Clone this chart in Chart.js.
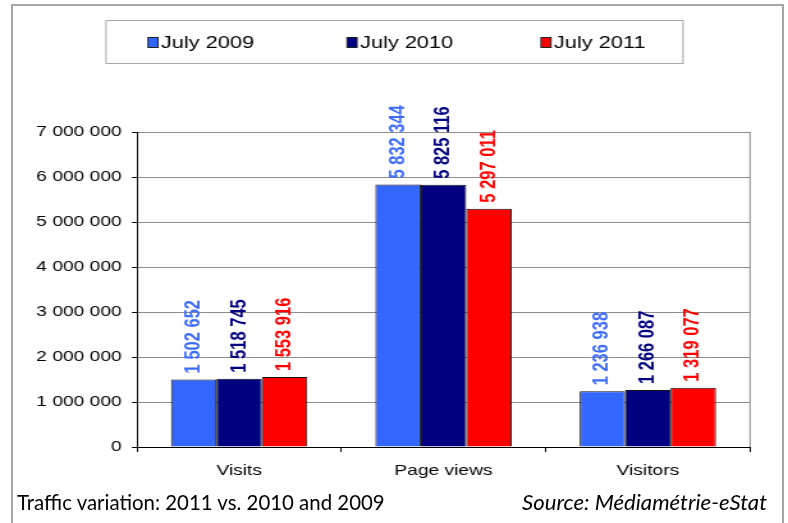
<!DOCTYPE html>
<html><head><meta charset="utf-8">
<script src="https://cdn.jsdelivr.net/npm/chart.js@4"></script>
<style>
html,body{margin:0;padding:0;background:#fff;width:788px;height:523px;overflow:hidden;}
#wrap{position:relative;width:788px;height:523px;}
#frame{position:absolute;left:11px;top:4px;width:773px;height:540px;border:2px solid #a6a6a6;border-bottom:none;box-sizing:border-box;}
#c{position:absolute;left:0;top:0;}
.foot{position:absolute;top:488px;font-family:Lato,"Open Sans",sans-serif;font-size:19px;color:#000;white-space:nowrap;line-height:28px;}
</style></head>
<body><div id="wrap"><div id="frame"></div><canvas id="c" width="616" height="523" style="width:788px;height:523px"></canvas>
<div class="foot" id="f1"></div>
<div class="foot" id="f2" style="font-style:italic"></div></div>
<script>
const categories = ['Visits', 'Page views', 'Visitors'];
const seriesNames = ['July 2009', 'July 2010', 'July 2011'];
const july2009 = [1502652, 5832344, 1236938];
const july2010 = [1518745, 5825116, 1266087];
const july2011 = [1553916, 5297011, 1319077];
const yTickValues = [0, 1000000, 2000000, 3000000, 4000000, 5000000, 6000000, 7000000];
const footLeft = 'Traffic variation: 2011 vs. 2010 and 2009';
const footRight = 'Source: Médiamétrie-eStat';

const barColors = ['#3366ff', '#000080', '#ff0000'];
const labelColors = ['#3d6cff', '#000080', '#ff0000'];
const S = 788 / 616;           // horizontal stretch of the chart picture
const X = x => x / S;
const fmt = v => String(v).replace(/\B(?=(\d{3})+(?!\d))/g, ' ');
const FONT = '"Liberation Sans", Arial, sans-serif';

Chart.defaults.font.family = FONT;
Chart.defaults.color = '#000';

const extras = {
  id: 'extras',
  afterDraw(chart) {
    const ctx = chart.ctx, a = chart.chartArea;
    ctx.save();
    // right border of plot area
    ctx.strokeStyle = '#8c8c8c'; ctx.lineWidth = 1;
    ctx.beginPath(); ctx.moveTo(a.right, a.top); ctx.lineTo(a.right, a.bottom); ctx.stroke();
    // legend box
    ctx.strokeStyle = '#a8a8a8';
    ctx.strokeRect(X(106), 20.5, X(577), 43);
    const sqX = [148, 347, 541], txX = [161, 360, 554];
    ctx.font = '17px ' + FONT; ctx.textBaseline = 'middle'; ctx.textAlign = 'left';
    seriesNames.forEach((n, i) => {
      ctx.fillStyle = barColors[i];
      ctx.fillRect(X(sqX[i]), 37, X(10), 10);
      ctx.strokeStyle = '#222'; ctx.lineWidth = 1;
      ctx.strokeRect(X(sqX[i]), 37.5, X(10), 10);
      ctx.fillStyle = '#000';
      ctx.fillText(n, X(txX[i]), 43);
    });
    // rotated value labels
    ctx.font = 'bold 16.5px ' + FONT;
    chart.data.datasets.forEach((ds, i) => {
      const meta = chart.getDatasetMeta(i);
      meta.data.forEach((bar, j) => {
        ctx.save();
        ctx.translate(bar.x, bar.y - 6);
        ctx.rotate(-Math.PI / 2);
        ctx.fillStyle = labelColors[i];
        ctx.textAlign = 'left'; ctx.textBaseline = 'middle';
        ctx.fillText(fmt(ds.data[j]), 0, 0);
        ctx.restore();
      });
    });
    ctx.restore();
  }
};

new Chart(document.getElementById('c'), {
  type: 'bar',
  data: {
    labels: categories,
    datasets: [july2009, july2010, july2011].map((d, i) => ({
      label: seriesNames[i], data: d, backgroundColor: barColors[i],
      borderColor: '#111', borderWidth: 1,
      categoryPercentage: 0.667, barPercentage: 1.0
    }))
  },
  options: {
    responsive: false, animation: false, devicePixelRatio: 1,
    layout: { padding: { left: 0, right: 616 - X(750), top: 132, bottom: 0 } },
    plugins: { legend: { display: false }, tooltip: { enabled: false } },
    scales: {
      x: {
        offset: true,
        grid: { display: true, drawOnChartArea: false, drawTicks: true, tickLength: 5, tickColor: '#000', offset: true },
        border: { display: true, color: '#000', width: 1 },
        ticks: { font: { size: 15 }, color: '#000', padding: 10 },
        afterFit: s => { s.height = 76; }
      },
      y: {
        min: 0, max: 7000000,
        afterBuildTicks: s => { s.ticks = yTickValues.map(v => ({ value: v })); },
        grid: { color: '#8c8c8c', tickColor: '#000', tickLength: 4, drawTicks: true },
        border: { display: true, color: '#000', width: 1 },
        ticks: { font: { size: 15 }, color: '#000', padding: 8, callback: v => fmt(v) },
        afterFit: s => { s.width = X(137); }
      }
    }
  },
  plugins: [extras]
});

// footer texts
const f1 = document.getElementById('f1'), f2 = document.getElementById('f2');
f1.textContent = footLeft; f2.textContent = footRight;
function fit(el, target) {
  const w = el.getBoundingClientRect().width;
  el.style.fontSize = (19 * target / w) + 'px';
}
fit(f1, 368); fit(f2, 245);
f1.style.left = '17px';
f2.style.left = (767 - f2.getBoundingClientRect().width) + 'px';
</script>
</body></html>
